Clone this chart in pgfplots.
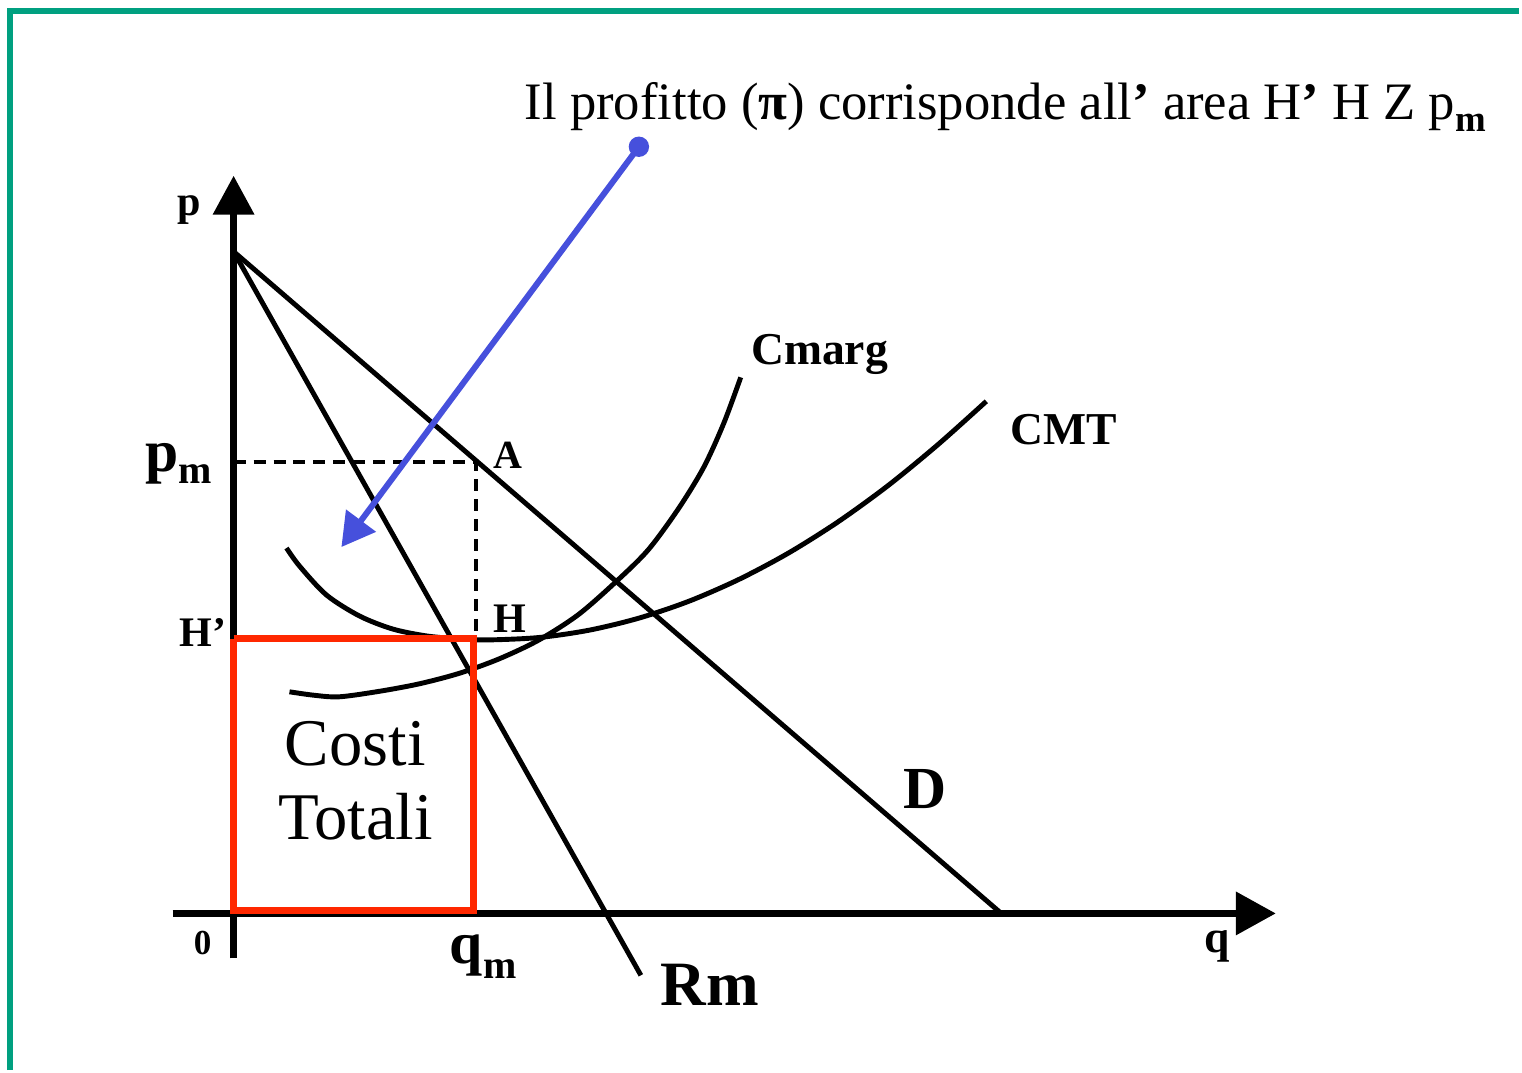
\documentclass[border=0pt]{standalone}
\usepackage{pgfplots}
\pgfplotsset{compat=1.18}
\usepackage{fontspec}
\setmainfont{Liberation Serif}
\usetikzlibrary{arrows.meta}
\definecolor{frame}{RGB}{0,160,128}
\definecolor{boxred}{RGB}{255,40,0}
\definecolor{arrblue}{RGB}{70,80,220}
\newcommand{\fs}[1]{\fontsize{#1}{#1}\selectfont}
\begin{document}
\begin{tikzpicture}
\begin{axis}[hide axis, scale only axis, width=15.22cm, height=10.72cm,
  xmin=0, xmax=1522, ymin=0, ymax=1072, y dir=reverse, clip=false]
\addplot[draw=none] coordinates {(0,0) (1522,1072)};
% frame
\addplot[frame, line width=1.5pt] coordinates {(10,1072) (10,11) (1522,11)};
% axes
\addplot[black, line width=2pt, -{Triangle[length=0.39cm,width=0.40cm]}] coordinates {(234,960) (234,176)};
\addplot[black, line width=2pt, -{Triangle[length=0.4cm,width=0.42cm]}] coordinates {(173,915) (1278,915)};
% demand and marginal revenue
\addplot[black, line width=1.4pt] coordinates {(234,252) (1003,915)};
\addplot[black, line width=1.4pt] coordinates {(234,252) (642,977)};
% dashed
\addplot[black, line width=1pt, dash pattern=on 0.12cm off 0.08cm] coordinates {(234,463) (477,463) (477,640)};
% CMT
\addplot[black, line width=1.4pt, smooth] coordinates {(287,549) (300,567) (327,596) (360,617) (393,630) (427,637) (460,640) (490,641) (540,638.6) (590,631.3) (640,619.2) (690,602.3) (740,580.5) (790,553.9) (840,522.4) (890,486.1) (940,445) (988,402)};
% Cmarg
\addplot[black, line width=1.4pt, smooth] coordinates {(290,693) (315,696.5) (340,698) (380,692.5) (420,685) (460,674.5) (500,660) (540,641) (580,615.2) (620,580) (650,550) (680,509) (705,468) (725,424) (742,378)};
% red box
\addplot[boxred, line width=2pt] coordinates {(234,640) (474,640) (474,912) (234,912) (234,640)};
% blue arrow
\addplot[arrblue, line width=1.7pt, -{Triangle[length=0.33cm,width=0.36cm]}] coordinates {(640,147) (342,548)};
\addplot[arrblue, only marks, mark=*, mark size=0.095cm] coordinates {(640,147)};
% texts
\node[anchor=base west, inner sep=0] at (axis cs:525,120) {\fs{15pt}Il profitto ({\bfseries π}) corrisponde all{\bfseries ’} area H{\bfseries ’} H Z p\raisebox{-0.12cm}{\fs{10.5pt}\bfseries m}};
\node at (axis cs:190,210) {\fs{12pt}\bfseries p};
\node[anchor=base east, inner sep=0] at (axis cs:213,472) {\fs{17pt}\bfseries p\raisebox{-0.12cm}{\fs{11.4pt}m}};
\node at (axis cs:509,456) {\fs{11.4pt}\bfseries A};
\node at (axis cs:203,634) {\fs{12pt}\bfseries H’};
\node at (axis cs:511,620) {\fs{12pt}\bfseries H};
\node at (axis cs:821,355) {\fs{13pt}\bfseries Cmarg};
\node at (axis cs:1066,430) {\fs{13pt}\bfseries CMT};
\node at (axis cs:927,790) {\fs{17pt}\bfseries D};
\node at (axis cs:711,987) {\fs{18pt}\bfseries Rm};
\node at (axis cs:356,745) {\fs{19pt}Costi};
\node at (axis cs:356,818) {\fs{19pt}Totali};
\node at (axis cs:203,945) {\fs{10pt}\bfseries 0};
\node[anchor=base west, inner sep=0] at (axis cs:450,965) {\fs{17pt}\bfseries q\raisebox{-0.15cm}{\fs{11.4pt}m}};
\node at (axis cs:1219,948) {\fs{13pt}\bfseries q};
\end{axis}
\end{tikzpicture}
\end{document}
